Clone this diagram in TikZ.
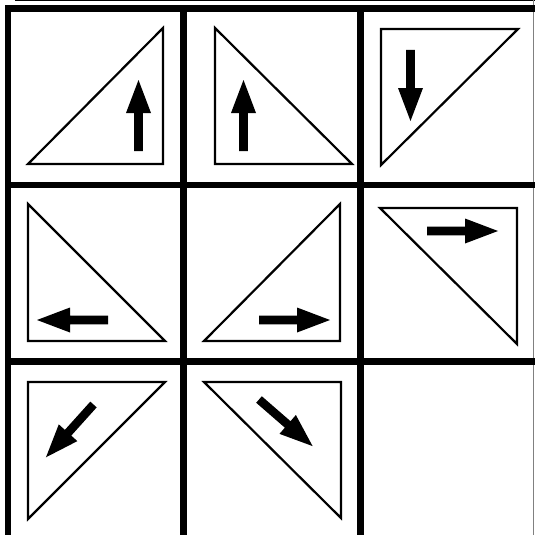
\documentclass[tikz,border=0pt]{standalone}
\begin{document}
\begin{tikzpicture}[x=1pt,y=-1pt,
  grid/.style={line width=6.5pt,line cap=rect},
  tri/.style={line width=2.2pt,line join=miter},
  arw/.pic={\fill (0,-4.3) -- (38,-4.3) -- (38,-12.5) -- (71,0) -- (38,12.5) -- (38,4.3) -- (0,4.3) -- cycle;}]
\useasboundingbox (0,0) rectangle (535,535);
% outer thin lines
\draw[line width=1pt] (15,0.5) -- (535,0.5);
\draw[line width=0.8pt,gray] (533.5,0) -- (533.5,535);
% grid
\draw[grid] (8,8.5) -- (538,8.5);
\draw[grid] (8,8.5) -- (8,540);
\draw[grid] (183.5,8.5) -- (183.5,540);
\draw[grid] (360.5,8.5) -- (360.5,540);
\draw[grid] (8,185) -- (538,185);
\draw[grid] (8,361.5) -- (538,361.5);
% row 1
\draw[tri] (28,164) -- (163,28) -- (163,164) -- cycle;
\pic[rotate=90] at (138.5,151) {arw};
\draw[tri] (215,28) -- (215,164) -- (352,164) -- cycle;
\pic[rotate=90] at (243.5,151) {arw};
\draw[tri] (381,29) -- (518,29) -- (381,165) -- cycle;
\pic[rotate=-90] at (410.5,50) {arw};
% row 2
\draw[tri] (28,204) -- (28,341) -- (165,341) -- cycle;
\pic[rotate=180] at (108,320) {arw};
\draw[tri] (204,341) -- (340,204) -- (340,341) -- cycle;
\pic at (259,320) {arw};
\draw[tri] (380,208) -- (517,208) -- (517,344) -- cycle;
\pic at (427,231) {arw};
% row 3
\draw[tri] (28,382) -- (165,382) -- (28,519) -- cycle;
\pic[rotate=-132] at (93.5,404.5) {arw};
\draw[tri] (204,382) -- (341,382) -- (341,518) -- cycle;
\pic[rotate=-41] at (259,399.5) {arw};
\end{tikzpicture}
\end{document}
